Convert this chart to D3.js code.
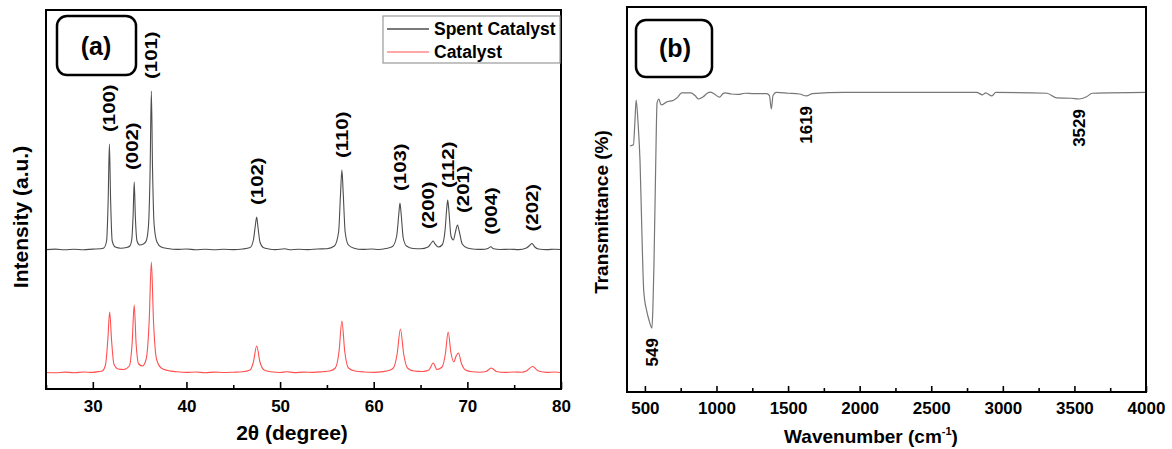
<!DOCTYPE html>
<html>
<head>
<meta charset="utf-8">
<script src="https://cdn.jsdelivr.net/npm/d3@7"></script>
<style>
  body { margin: 0; background: #fff; }
  text { font-family: "Liberation Sans", Arial, sans-serif; font-weight: bold; fill: #000; }
</style>
</head>
<body>
<script>
// (a) XRD patterns, [2theta, intensity a.u.]
const spentPattern = [
  [25.0, 0.4], [26.0, 0.9], [27.0, 0.2], [28.0, 0.8], [29.0, 0.3], [30.0, 0.9], [30.8, 1.2],
  [31.17, 2], [31.47, 9], [31.64, 50], [31.77, 106], [31.9, 50], [32.07, 9], [32.4, 3], [33.0, 1.8],
  [33.6, 2.5], [33.95, 4], [34.15, 10], [34.3, 34], [34.42, 68], [34.54, 34], [34.72, 9], [35.0, 5],
  [35.4, 6], [35.7, 9], [35.95, 25], [36.12, 80], [36.25, 159], [36.38, 80], [36.55, 25], [36.85, 8],
  [37.3, 3], [38.0, 1.5], [39.0, 0.6], [40.0, 1], [41.0, 0.3], [42.0, 0.8], [43.0, 0.2], [44.0, 0.7],
  [45.0, 0.4], [46.0, 1], [46.8, 2.5], [47.15, 10], [47.35, 24], [47.5, 33], [47.65, 22], [47.85, 8],
  [48.2, 2.5], [48.8, 1], [49.5, 0.4], [50.5, 1.2], [51.0, 0.3], [52.0, 0.7], [53.0, 0.4], [54.0, 1],
  [55.0, 1.3], [55.8, 4], [56.25, 18], [56.45, 55], [56.6, 80], [56.75, 55], [56.95, 18], [57.3, 5],
  [57.9, 1.8], [58.8, 0.6], [59.8, 1], [60.5, 0.5], [61.3, 1.5], [62.0, 3.5], [62.45, 14], [62.68, 36],
  [62.8, 47], [62.93, 36], [63.15, 12], [63.5, 4], [64.2, 1.5], [65.0, 1.2], [65.8, 3], [66.15, 7],
  [66.35, 9], [66.55, 6], [66.9, 3], [67.3, 5], [67.62, 20], [67.8, 42], [67.9, 50], [68.02, 40],
  [68.25, 14], [68.5, 10], [68.75, 19], [68.95, 25], [69.15, 18], [69.45, 6], [70.0, 2], [70.8, 0.8],
  [71.6, 0.6], [72.2, 1.5], [72.5, 3.2], [72.8, 1.2], [73.5, 0.5], [74.5, 0.8], [75.5, 0.4], [76.3, 2],
  [76.65, 4.5], [76.9, 6.5], [77.2, 3], [77.6, 1], [78.5, 0.4], [79.3, 0.8], [80.0, 0.5]
];

const catalystPattern = [
  [25.0, 0.5], [26.0, 0.2], [27.0, 0.9], [28.0, 0.3], [29.0, 1], [30.0, 0.6], [30.6, 1.4],
  [31.0, 2], [31.35, 8], [31.6, 33], [31.8, 61], [32.0, 33], [32.25, 9], [32.7, 4], [33.3, 3.5],
  [33.9, 7], [34.2, 30], [34.42, 68], [34.62, 30], [34.9, 9], [35.3, 7], [35.7, 14], [36.02, 52],
  [36.25, 111], [36.48, 52], [36.8, 14], [37.3, 5], [38.0, 2.5], [39.0, 1.2], [40.0, 0.6], [41.0, 1],
  [42.0, 0.3], [43.0, 0.9], [44.0, 0.5], [45.0, 0.8], [46.0, 1.2], [46.8, 3], [47.15, 11], [47.5, 27],
  [47.85, 11], [48.3, 3], [49.0, 1.2], [50.0, 0.5], [50.7, 1.3], [51.5, 0.4], [52.5, 0.9], [53.5, 0.6],
  [54.5, 1.2], [55.3, 2], [55.9, 5], [56.3, 22], [56.6, 52], [56.9, 22], [57.3, 5], [58.0, 2],
  [59.0, 1], [60.0, 0.6], [61.0, 1.4], [61.6, 2.5], [62.1, 5], [62.5, 19], [62.85, 44], [63.2, 19],
  [63.6, 5], [64.3, 2], [65.2, 1.5], [65.9, 3], [66.35, 10], [66.75, 3.5], [67.3, 6], [67.65, 19],
  [67.95, 41], [68.25, 20], [68.55, 11], [68.8, 17], [69.05, 20], [69.35, 10], [69.8, 3], [70.5, 1.2],
  [71.3, 0.8], [72.0, 1.5], [72.55, 5], [73.1, 1.5], [74.0, 0.6], [75.0, 1], [75.8, 0.8], [76.3, 2],
  [76.95, 6.5], [77.6, 2], [78.5, 0.6], [79.3, 1], [80.0, 0.5]
];

const hklLabels = ["(100)", "(002)", "(101)", "(102)", "(110)", "(103)", "(200)", "(112)", "(201)", "(004)", "(202)"];
const hklAngles = [31.77, 34.42, 36.25, 47.5, 56.6, 62.8, 66.35, 67.9, 68.95, 72.5, 76.9];

const seriesNames = ["Spent Catalyst", "Catalyst"];
const xTicksA = [30, 40, 50, 60, 70, 80];
const xMinorA = [25, 35, 45, 55, 65, 75];

// (b) FTIR spectrum, [wavenumber, transmittance %]
const ftirPattern = [
  [395, 63.9], [420, 64.2], [430, 70], [439, 75.8], [452, 70], [466, 60], [480, 40], [492, 26.2],
  [513, 21], [530, 18.5], [549, 16.6], [556, 22], [563, 32.5], [575, 58], [585, 75.1], [598, 76.1],
  [610, 74.8], [619, 74.6], [650, 75.3], [700, 75.8], [730, 76.6], [756, 77.7], [822, 77.7],
  [850, 77.0], [875, 76.1], [905, 76.6], [935, 77.6], [955, 77.9], [985, 77.4], [1021, 76.6],
  [1045, 77.5], [1060, 77.7], [1100, 77.4], [1150, 77.3], [1200, 77.6], [1259, 77.5], [1351, 77.5],
  [1370, 77.0], [1383, 73.5], [1395, 77.0], [1417, 77.8], [1500, 77.6], [1580, 77.4], [1629, 76.9],
  [1670, 77.5], [1893, 77.8], [2400, 77.8], [2818, 77.8], [2858, 77.2], [2880, 77.7], [2924, 76.9],
  [2951, 77.8], [3307, 77.6], [3374, 76.4], [3479, 76.3], [3532, 76.1], [3585, 76.7], [3625, 77.6],
  [4000, 77.8]
];

const bandLabels = ["549", "1619", "3529"];
const bandPositions = [549, 1629, 3532];
const xTicksB = [500, 1000, 1500, 2000, 2500, 3000, 3500, 4000];
const xMinorB = [750, 1250, 1750, 2250, 2750, 3250, 3750];

const svg = d3.select("body").append("svg").attr("width", 1172).attr("height", 449);

// ---------- panel (a) ----------
const xA = d3.scaleLinear().domain([25, 80]).range([46, 561]);
const yA = d3.scaleLinear().domain([0, 379]).range([389, 10]);
const spentOffset = 139;
const catalystOffset = 16;

const lineA = (off) =>
  d3.line()
    .x((d) => xA(d[0]))
    .y((d) => yA(d[1] + off))
    .curve(d3.curveMonotoneX);

svg.append("path")
  .attr("d", lineA(catalystOffset)(catalystPattern))
  .attr("fill", "none")
  .attr("stroke", "#ff5050")
  .attr("stroke-width", 1.1);

svg.append("path")
  .attr("d", lineA(spentOffset)(spentPattern))
  .attr("fill", "none")
  .attr("stroke", "#4d4d4d")
  .attr("stroke-width", 1.1);

const styleAxis = (g, size) => {
  g.select(".domain").remove();
  g.selectAll(".tick line").attr("stroke", "#000").attr("stroke-width", 1.6);
  g.selectAll(".tick text").style("font-size", size + "px");
};

svg.append("g")
  .attr("transform", "translate(0,389)")
  .call(d3.axisBottom(xA).tickValues(xTicksA).tickSize(-7).tickPadding(11).tickFormat(d3.format("d")))
  .call((g) => styleAxis(g, 17));

svg.append("g")
  .attr("transform", "translate(0,389)")
  .call(d3.axisBottom(xA).tickValues(xMinorA).tickSize(-4).tickFormat(""))
  .call((g) => styleAxis(g, 17));

svg.append("rect")
  .attr("x", 46).attr("y", 10).attr("width", 515).attr("height", 379)
  .attr("fill", "none").attr("stroke", "#000").attr("stroke-width", 2);

// hkl labels above the spent peaks (the source lettering is drawn a bit elongated)
const peakTop = (pattern, x) =>
  d3.max(pattern.filter((d) => Math.abs(d[0] - x) < 0.3), (d) => d[1]);
const labelNudge = { "(200)": -5, "(201)": 6, "(002)": -2 };

hklLabels.forEach((lab, i) => {
  const px = xA(hklAngles[i]) + (labelNudge[lab] || 0);
  const py = yA(peakTop(spentPattern, hklAngles[i]) + spentOffset) - 12;
  svg.append("text")
    .attr("transform", `translate(${px},${py}) rotate(-90) scale(1.2,1)`)
    .attr("dy", "0.35em")
    .style("font-size", "17px")
    .text(lab);
});

// legend
const legend = svg.append("g");
legend.append("rect")
  .attr("x", 383).attr("y", 16).attr("width", 177).attr("height", 47)
  .attr("fill", "#fff").attr("stroke", "#999").attr("stroke-width", 1.2);
[["#4d4d4d", 29], ["#ff8a8a", 52]].forEach(([c, y], i) => {
  legend.append("line")
    .attr("x1", 387).attr("x2", 429).attr("y1", y).attr("y2", y)
    .attr("stroke", c).attr("stroke-width", 1.3);
  legend.append("text")
    .attr("x", 434).attr("y", y).attr("dy", "0.36em")
    .style("font-size", "17.5px")
    .text(seriesNames[i]);
});

// (a) tag
svg.append("rect")
  .attr("x", 57).attr("y", 16).attr("width", 79).attr("height", 59).attr("rx", 10)
  .attr("fill", "none").attr("stroke", "#000").attr("stroke-width", 2.5);
svg.append("text")
  .attr("x", 96).attr("y", 46).attr("dy", "0.35em").attr("text-anchor", "middle")
  .style("font-size", "25px").text("(a)");

svg.append("text")
  .attr("x", 292).attr("y", 433).attr("dy", "0.35em").attr("text-anchor", "middle")
  .style("font-size", "21px").text("2θ (degree)");

svg.append("text")
  .attr("transform", "translate(21,217) rotate(-90)")
  .attr("dy", "0.35em").attr("text-anchor", "middle")
  .style("font-size", "21px").text("Intensity (a.u.)");

// ---------- panel (b) ----------
const xB = d3.scaleLinear().domain([375, 4000]).range([627, 1146]);
const yB = d3.scaleLinear().domain([0, 100]).range([392, 7]);

svg.append("path")
  .attr("d", d3.line().x((d) => xB(d[0])).y((d) => yB(d[1])).curve(d3.curveMonotoneX)(ftirPattern))
  .attr("fill", "none")
  .attr("stroke", "#777")
  .attr("stroke-width", 1.2);

svg.append("g")
  .attr("transform", "translate(0,392)")
  .call(d3.axisBottom(xB).tickValues(xTicksB).tickSize(-6).tickPadding(10).tickFormat(d3.format("d")))
  .call((g) => styleAxis(g, 17));

svg.append("g")
  .attr("transform", "translate(0,392)")
  .call(d3.axisBottom(xB).tickValues(xMinorB).tickSize(-4).tickFormat(""))
  .call((g) => styleAxis(g, 17));

svg.append("rect")
  .attr("x", 627).attr("y", 7).attr("width", 519).attr("height", 385)
  .attr("fill", "none").attr("stroke", "#000").attr("stroke-width", 2);

// band labels below the dips
bandLabels.forEach((lab, i) => {
  const pt = ftirPattern.reduce((a, b) =>
    Math.abs(b[0] - bandPositions[i]) < Math.abs(a[0] - bandPositions[i]) ? b : a);
  svg.append("text")
    .attr("transform", `translate(${xB(bandPositions[i])},${yB(pt[1]) + 10}) rotate(-90)`)
    .attr("dy", "0.35em").attr("text-anchor", "end")
    .style("font-size", "17px")
    .text(lab);
});

svg.append("rect")
  .attr("x", 636).attr("y", 20).attr("width", 76).attr("height", 57).attr("rx", 10)
  .attr("fill", "none").attr("stroke", "#000").attr("stroke-width", 2.5);
svg.append("text")
  .attr("x", 675).attr("y", 48).attr("dy", "0.35em").attr("text-anchor", "middle")
  .style("font-size", "25px").text("(b)");

const wn = svg.append("text")
  .attr("x", 871).attr("y", 436).attr("dy", "0.35em").attr("text-anchor", "middle")
  .style("font-size", "19px");
wn.append("tspan").text("Wavenumber (cm");
wn.append("tspan").attr("dy", -8).style("font-size", "11px").text("-1");
wn.append("tspan").attr("dy", 8).text(")");

svg.append("text")
  .attr("transform", "translate(601,212) rotate(-90)")
  .attr("dy", "0.35em").attr("text-anchor", "middle")
  .style("font-size", "19px").text("Transmittance (%)");
</script>
</body>
</html>
